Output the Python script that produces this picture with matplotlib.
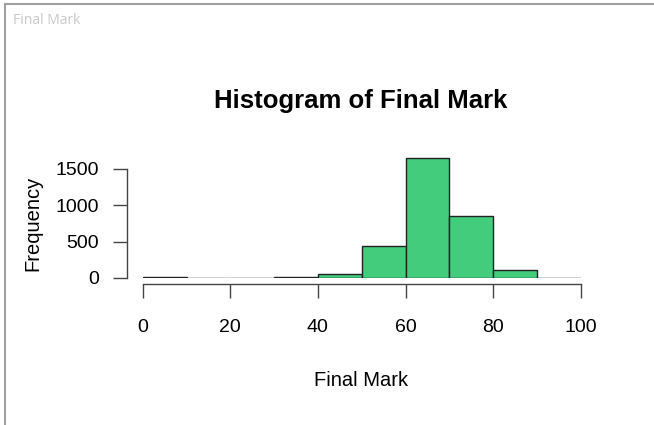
import matplotlib
matplotlib.use("Agg")
import matplotlib.pyplot as plt
from matplotlib.lines import Line2D

# histogram of final marks, bins of width 10
bin_edges = [0, 10, 20, 30, 40, 50, 60, 70, 80, 90, 100]
counts = [15, 4, 4, 7, 55, 445, 1640, 845, 115, 6]
x_ticks = [0, 20, 40, 60, 80, 100]
y_ticks = [0, 500, 1000, 1500]

plt.rcParams['font.family'] = ['Liberation Sans', 'DejaVu Sans']

W, H = 654, 425
fig = plt.figure(figsize=(W / 100, H / 100), dpi=100)

# plot region in pixels: x 0 -> 142.7, x 100 -> 580.7 ; y 0 -> 278 px from top
px_per_unit = 0.073
ymax = 1700
left, right = 142.7, 580.7
bottom_px, top_px = 278, 278 - ymax * px_per_unit
ax = fig.add_axes([left / W, (H - bottom_px) / H, (right - left) / W, (bottom_px - top_px) / H])

widths = [bin_edges[i + 1] - bin_edges[i] for i in range(len(counts))]
ax.bar(bin_edges[:-1], counts, width=widths, align='edge',
       color='#42cc7c', edgecolor='#222222', linewidth=1.0)

ax.set_xlim(0, 100)
ax.set_ylim(0, ymax)
for s in ['top', 'right']:
    ax.spines[s].set_visible(False)
ax.spines['left'].set_position(('outward', 11.3))
ax.spines['bottom'].set_position(('outward', 4.3))
ax.spines['left'].set_bounds(0, 1500)
ax.spines['bottom'].set_bounds(0, 100)
for s in ['left', 'bottom']:
    ax.spines[s].set_color('#444444')
    ax.spines[s].set_linewidth(1.0)

ax.set_xticks(x_ticks)
ax.set_yticks(y_ticks)
ax.tick_params(axis='x', length=10, width=1.0, color='#444444', pad=15, labelsize=14)
ax.tick_params(axis='y', length=10, width=1.0, color='#444444', pad=10, labelsize=14)

fig.text(361 / W, (H - 101) / H, 'Histogram of Final Mark', ha='center', va='center',
         fontsize=18.5, fontweight='bold')
fig.text(361 / W, (H - 380) / H, 'Final Mark', ha='center', va='center', fontsize=14.5)
fig.text(33 / W, (H - 223) / H, 'Frequency', ha='center', va='center', fontsize=14.5, rotation=90)

# window frame and caption
fig.text(13 / W, (H - 20) / H, 'Final Mark', ha='left', va='center', fontsize=10,
         color='#c8c8c8', family=['Open Sans', 'DejaVu Sans'])
fig.add_artist(Line2D([5 / W, 1], [(H - 4) / H] * 2, transform=fig.transFigure,
                      color='#a0a0a0', linewidth=1.5))
fig.add_artist(Line2D([5 / W] * 2, [0, (H - 4) / H], transform=fig.transFigure,
                      color='#a0a0a0', linewidth=1.5))

fig.savefig('out.png', dpi=100)
